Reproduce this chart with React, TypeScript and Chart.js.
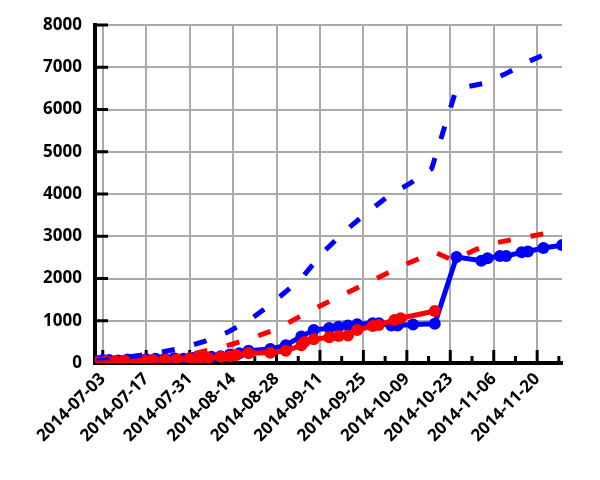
import React, { useEffect, useRef } from "react";
import { Chart, registerables } from "chart.js";

Chart.register(...registerables);

// ---- data ----
const blueSolidDates = [
  "2014-07-01", "2014-07-03", "2014-07-05", "2014-07-08", "2014-07-11", "2014-07-14",
  "2014-07-17", "2014-07-20", "2014-07-23", "2014-07-26", "2014-07-29", "2014-08-01",
  "2014-08-04", "2014-08-07", "2014-08-10", "2014-08-13", "2014-08-16", "2014-08-19",
  "2014-08-26", "2014-08-31", "2014-09-05", "2014-09-09", "2014-09-14", "2014-09-17",
  "2014-09-20", "2014-09-23", "2014-09-28", "2014-09-30", "2014-10-04", "2014-10-06",
  "2014-10-11", "2014-10-18", "2014-10-25", "2014-11-02", "2014-11-04", "2014-11-08",
  "2014-11-10", "2014-11-15", "2014-11-17", "2014-11-22", "2014-11-28",
];
const blueSolidValues = [
  50, 70, 70, 60, 80, 80,
  90, 100, 100, 110, 100, 120,
  130, 150, 160, 200, 230, 290,
  330, 420, 630, 780, 830, 860,
  890, 920, 940, 940, 890, 890,
  910, 930, 2510, 2420, 2480, 2530,
  2530, 2620, 2640, 2720, 2790,
];

const redSolidDates = [
  "2014-07-01", "2014-07-04", "2014-07-07", "2014-07-10", "2014-07-13", "2014-07-16",
  "2014-07-19", "2014-07-23", "2014-07-27", "2014-07-31", "2014-08-03", "2014-08-06",
  "2014-08-10", "2014-08-13", "2014-08-15", "2014-08-19", "2014-08-26", "2014-08-31",
  "2014-09-05", "2014-09-06", "2014-09-09", "2014-09-14", "2014-09-17", "2014-09-20",
  "2014-09-23", "2014-09-28", "2014-09-30", "2014-10-05", "2014-10-07", "2014-10-18",
];
const redSolidValues = [
  20, 40, 50, 60, 60, 70,
  70, 80, 90, 110, 120, 120,
  150, 160, 190, 230, 240, 290,
  420, 500, 560, 610, 640, 650,
  780, 875, 900, 1020, 1060, 1230,
];

const blueDashDates = [
  "2014-07-01", "2014-07-08", "2014-07-15", "2014-07-22", "2014-07-29", "2014-08-05",
  "2014-08-12", "2014-08-19", "2014-08-26", "2014-09-05", "2014-09-12", "2014-09-19",
  "2014-09-26", "2014-10-03", "2014-10-10", "2014-10-17", "2014-10-25", "2014-10-27",
  "2014-11-03", "2014-11-10", "2014-11-17", "2014-11-27",
];
const blueDashValues = [
  50, 110, 180, 260, 360, 520,
  720, 1000, 1380, 2000, 2620, 3120,
  3550, 3950, 4250, 4600, 6500, 6520,
  6620, 6850, 7130, 7450,
];

const redDashDates = [
  "2014-07-01", "2014-07-17", "2014-07-24", "2014-07-31", "2014-08-07", "2014-08-14",
  "2014-08-21", "2014-08-28", "2014-09-04", "2014-09-11", "2014-09-18", "2014-09-25",
  "2014-10-02", "2014-10-09", "2014-10-18", "2014-10-24", "2014-10-31", "2014-11-07",
  "2014-11-14", "2014-11-21", "2014-11-28",
];
const redDashValues = [
  0, 30, 80, 200, 320, 450,
  620, 800, 1080, 1350, 1600, 1850,
  2100, 2350, 2620, 2430, 2680, 2850,
  2950, 3040, 3150,
];

const xTickLabels = [
  "2014-07-03", "2014-07-17", "2014-07-31", "2014-08-14", "2014-08-28", "2014-09-11",
  "2014-09-25", "2014-10-09", "2014-10-23", "2014-11-06", "2014-11-20",
];
const xMinorTicks = [
  "2014-07-10", "2014-07-24", "2014-08-07", "2014-08-21", "2014-09-04", "2014-09-18",
  "2014-10-02", "2014-10-16", "2014-10-30", "2014-11-13", "2014-11-27",
];
const yTicks = [0, 1000, 2000, 3000, 4000, 5000, 6000, 7000, 8000];

// ---- helpers ----
const DAY = 86400000;
const toDay = (s: string) =>
  Date.UTC(+s.slice(0, 4), +s.slice(5, 7) - 1, +s.slice(8, 10)) / DAY;
const fmt = (d: number) => new Date(Math.round(d) * DAY).toISOString().slice(0, 10);
const pts = (dates: string[], vals: number[]) =>
  dates.map((d, i) => ({ x: toDay(d), y: vals[i] }));

const X_MIN = toDay("2014-06-30") + 0.5;
const X_MAX = toDay("2014-11-28");

const FONT = { family: "'Open Sans', sans-serif", size: 17, weight: "bold" as const };

const innerTicks = {
  id: "innerTicks",
  beforeDatasetsDraw(chart: any) {
    const { ctx, chartArea, scales } = chart;
    const x = scales.x;
    const y = scales.y;
    ctx.save();
    ctx.strokeStyle = "#000";
    ctx.lineWidth = 3;
    ctx.beginPath();
    xTickLabels.forEach((s) => {
      const px = x.getPixelForValue(toDay(s));
      ctx.moveTo(px, chartArea.bottom);
      ctx.lineTo(px, chartArea.bottom - 13);
    });
    xMinorTicks.forEach((s) => {
      const px = x.getPixelForValue(toDay(s));
      ctx.moveTo(px, chartArea.bottom);
      ctx.lineTo(px, chartArea.bottom - 7);
    });
    yTicks.forEach((v) => {
      const py = y.getPixelForValue(v);
      ctx.moveTo(chartArea.left, py);
      ctx.lineTo(chartArea.left + 13, py);
    });
    ctx.stroke();
    ctx.restore();
  },
};

export default function App() {
  const ref = useRef<HTMLCanvasElement>(null);

  useEffect(() => {
    document.body.style.margin = "0";
    const canvas = ref.current;
    if (!canvas) return;
    const lineCommon = { borderWidth: 5, tension: 0, fill: false };
    const chart = new Chart(canvas, {
      type: "line",
      data: {
        datasets: [
          {
            ...lineCommon,
            label: "red projection",
            data: pts(redDashDates, redDashValues),
            borderColor: "#ff0000",
            backgroundColor: "#ff0000",
            borderDash: [13, 20],
            pointRadius: 0,
            order: 0,
          },
          {
            ...lineCommon,
            label: "blue projection",
            data: pts(blueDashDates, blueDashValues),
            borderColor: "#0000ff",
            backgroundColor: "#0000ff",
            borderDash: [13, 20],
            pointRadius: 0,
            order: 1,
          },
          {
            ...lineCommon,
            label: "red",
            data: pts(redSolidDates, redSolidValues),
            borderColor: "#ff0000",
            backgroundColor: "#ff0000",
            pointRadius: 6,
            pointBorderWidth: 0,
            order: 2,
          },
          {
            ...lineCommon,
            label: "blue",
            data: pts(blueSolidDates, blueSolidValues),
            borderColor: "#0000ff",
            backgroundColor: "#0000ff",
            pointRadius: 6,
            pointBorderWidth: 0,
            order: 3,
          },
        ],
      },
      options: {
        responsive: false,
        animation: false,
        events: [],
        layout: { padding: { top: 25, right: 38, left: 0, bottom: 0 } },
        plugins: { legend: { display: false }, tooltip: { enabled: false } },
        scales: {
          x: {
            type: "linear",
            min: X_MIN,
            max: X_MAX,
            afterBuildTicks: (scale: any) => {
              scale.ticks = xTickLabels.map((s) => ({ value: toDay(s) }));
            },
            afterFit: (scale: any) => {
              scale.height = 117;
            },
            grid: { color: "#aaaaaa", lineWidth: 2, drawTicks: false },
            border: { color: "#000", width: 4 },
            ticks: {
              autoSkip: false,
              maxRotation: 45,
              minRotation: 45,
              padding: 6,
              color: "#000",
              font: FONT,
              callback: (v: any) => fmt(Number(v)),
            },
          },
          y: {
            min: 0,
            max: 8000,
            afterBuildTicks: (scale: any) => {
              scale.ticks = yTicks.map((v) => ({ value: v }));
            },
            afterFit: (scale: any) => {
              scale.width = 95;
            },
            grid: { color: "#aaaaaa", lineWidth: 2, drawTicks: false },
            border: { color: "#000", width: 4 },
            ticks: {
              padding: 13,
              color: "#000",
              font: FONT,
              callback: (v: any) => String(v),
            },
          },
        },
      },
      plugins: [innerTicks],
    });
    return () => chart.destroy();
  }, []);

  return (
    <canvas
      ref={ref}
      width={600}
      height={480}
      style={{ display: "block", width: 600, height: 480 }}
    />
  );
}
